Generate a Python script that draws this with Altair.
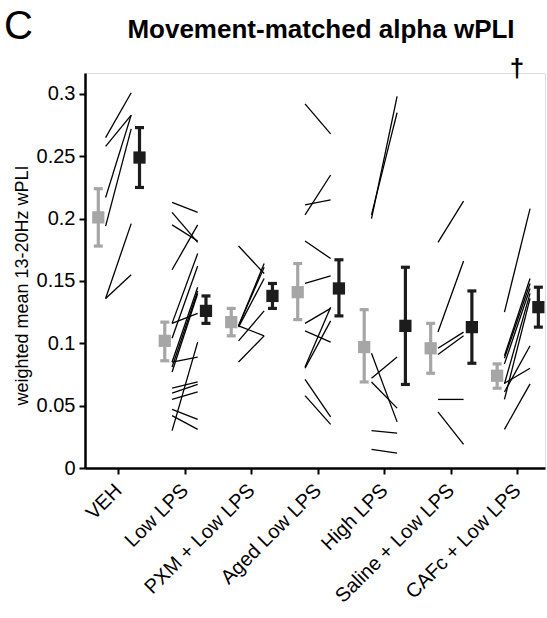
import altair as alt
import pandas as pd

groups = ["VEH", "Low LPS", "PXM + Low LPS", "Aged Low LPS", "High LPS",
          "Saline + Low LPS", "CAFc + Low LPS"]

pre_mean = [0.201, 0.102, 0.117, 0.141, 0.097, 0.096, 0.074]
pre_lo = [0.178, 0.086, 0.106, 0.119, 0.069, 0.076, 0.064]
pre_hi = [0.224, 0.117, 0.128, 0.164, 0.127, 0.116, 0.0835]

post_mean = [0.249, 0.126, 0.138, 0.144, 0.114, 0.113, 0.129]
post_lo = [0.225, 0.116, 0.128, 0.122, 0.067, 0.084, 0.113]
post_hi = [0.273, 0.138, 0.148, 0.167, 0.161, 0.142, 0.145]

veh_pre = [0.265, 0.258, 0.217, 0.194, 0.136, 0.136]
veh_post = [0.301, 0.283, 0.283, 0.272, 0.196, 0.155]
low_pre = [0.213, 0.205, 0.195, 0.159, 0.116, 0.104, 0.116, 0.085, 0.081, 0.077,
           0.085, 0.030, 0.064, 0.060, 0.055, 0.047, 0.042]
low_post = [0.205, 0.181, 0.182, 0.195, 0.172, 0.162, 0.124, 0.145, 0.142, 0.140,
            0.089, 0.101, 0.069, 0.067, 0.061, 0.039, 0.031]
pxm_pre = [0.178, 0.114, 0.114, 0.113, 0.114, 0.102, 0.085]
pxm_post = [0.156, 0.164, 0.161, 0.152, 0.106, 0.126, 0.106]
aged_pre = [0.292, 0.203, 0.211, 0.182, 0.148, 0.116, 0.110, 0.081, 0.080, 0.071, 0.058]
aged_post = [0.268, 0.235, 0.215, 0.168, 0.154, 0.128, 0.101, 0.129, 0.118, 0.041, 0.035]
high_pre = [0.200, 0.203, 0.092, 0.072, 0.069, 0.030, 0.015]
high_post = [0.298, 0.285, 0.037, 0.089, 0.048, 0.028, 0.012]
saline_pre = [0.181, 0.109, 0.096, 0.091, 0.055, 0.045]
saline_post = [0.214, 0.166, 0.109, 0.106, 0.055, 0.019]
cafc_pre = [0.125, 0.090, 0.088, 0.0835, 0.0675, 0.061, 0.068, 0.055, 0.031]
cafc_post = [0.208, 0.152, 0.148, 0.144, 0.140, 0.098, 0.080, 0.136, 0.0675]

y_ticks = [0, 0.05, 0.1, 0.15, 0.2, 0.25, 0.3]

# ---- build tables ----
indiv_pre = [veh_pre, low_pre, pxm_pre, aged_pre, high_pre, saline_pre, cafc_pre]
indiv_post = [veh_post, low_post, pxm_post, aged_post, high_post, saline_post, cafc_post]

rows = []
for gi, (p, q) in enumerate(zip(indiv_pre, indiv_post)):
    for a, b in zip(p, q):
        rows.append({"g": gi, "pre": a, "post": b})
lines_df = pd.DataFrame(rows)

summ_rows = []
for gi in range(len(groups)):
    summ_rows.append({"g": gi, "cond": "pre", "m": pre_mean[gi], "lo": pre_lo[gi], "hi": pre_hi[gi]})
    summ_rows.append({"g": gi, "cond": "post", "m": post_mean[gi], "lo": post_lo[gi], "hi": post_hi[gi]})
summ_df = pd.DataFrame(summ_rows)

GRAY = "#a6a6a6"
BLACK = "#1c1c1c"
FONT = "Liberation Sans"

label_expr = "[" + ",".join("'" + g + "'" for g in groups) + "][datum.value]"

xscale = alt.Scale(domain=[-0.5, 6.42], nice=False, zero=False)
yscale = alt.Scale(domain=[0, 0.3168], nice=False, zero=True)

xaxis = alt.Axis(values=list(range(len(groups))), labelExpr=label_expr, title=None,
                 labelAngle=-45, labelAlign="right", labelBaseline="middle",
                 labelFontSize=20, labelFont=FONT, labelColor="black", labelPadding=13,
                 domainColor="black", domainWidth=2.5, tickColor="black", tickWidth=2,
                 tickSize=6, grid=False, labelOverlap=False)
yaxis = alt.Axis(values=y_ticks, format=".2~f", title="weighted mean 13-20Hz wPLI",
                 titleFontSize=18, titleFont=FONT, titleFontWeight="normal", titleColor="black",
                 titleX=-63, titleY=212, titleAngle=-90, titleAlign="center", titleBaseline="middle",
                 labelFontSize=20, labelFont=FONT, labelColor="black", labelPadding=4,
                 domainColor="black", domainWidth=2.5, tickColor="black", tickWidth=2,
                 tickSize=6, grid=False)

base_lines = alt.Chart(lines_df).transform_calculate(
    x1="datum.g - 0.19", x2="datum.g + 0.195"
)
indiv = base_lines.mark_rule(color="black", strokeWidth=1.3).encode(
    x=alt.X("x1:Q", scale=xscale, axis=xaxis),
    x2="x2:Q",
    y=alt.Y("pre:Q", scale=yscale, axis=yaxis),
    y2="post:Q",
)

base_s = alt.Chart(summ_df).transform_calculate(
    xp="datum.g + (datum.cond == 'pre' ? -0.30 : 0.32)"
)
color_enc = alt.Color("cond:N", scale=alt.Scale(domain=["pre", "post"], range=[GRAY, BLACK]), legend=None)

err = base_s.mark_rule(strokeWidth=3.2).encode(
    x=alt.X("xp:Q", scale=xscale), y=alt.Y("lo:Q", scale=yscale), y2="hi:Q", color=color_enc
)
cap_lo = base_s.mark_tick(orient="horizontal", size=9, thickness=3.2, opacity=1).encode(
    x=alt.X("xp:Q", scale=xscale), y=alt.Y("lo:Q", scale=yscale), color=color_enc
)
cap_hi = base_s.mark_tick(orient="horizontal", size=9, thickness=3.2, opacity=1).encode(
    x=alt.X("xp:Q", scale=xscale), y=alt.Y("hi:Q", scale=yscale), color=color_enc
)
sq = base_s.mark_square(size=150, opacity=1, filled=True).encode(
    x=alt.X("xp:Q", scale=xscale), y=alt.Y("m:Q", scale=yscale), color=color_enc
)

letter = alt.Chart(pd.DataFrame({"t": ["C"]})).mark_text(
    fontSize=40, font=FONT, align="left", baseline="alphabetic", color="black"
).encode(text="t:N", x=alt.value(-81), y=alt.value(-34))

title = alt.Chart(pd.DataFrame({"t": ["Movement-matched alpha wPLI"]})).mark_text(
    fontSize=26, font=FONT, fontWeight="bold", align="center", baseline="alphabetic", color="black"
).encode(text="t:N", x=alt.value(236), y=alt.value(-35))

dagger = alt.Chart(pd.DataFrame({"t": ["†"]})).mark_text(
    fontSize=26, font=FONT, fontWeight="bold", align="center", baseline="alphabetic", color="black"
).encode(text="t:N", x=alt.value(432), y=alt.value(4))

chart = alt.layer(indiv, err, cap_lo, cap_hi, sq, letter, title, dagger).properties(
    width=460, height=395,
    autosize=alt.AutoSizeParams(type="none"),
    padding={"left": 85, "top": 73, "right": 2, "bottom": 150},
).configure_view(stroke=None).configure(background="white")

chart.save("out.html", embed_options={"renderer": "svg", "actions": False})
